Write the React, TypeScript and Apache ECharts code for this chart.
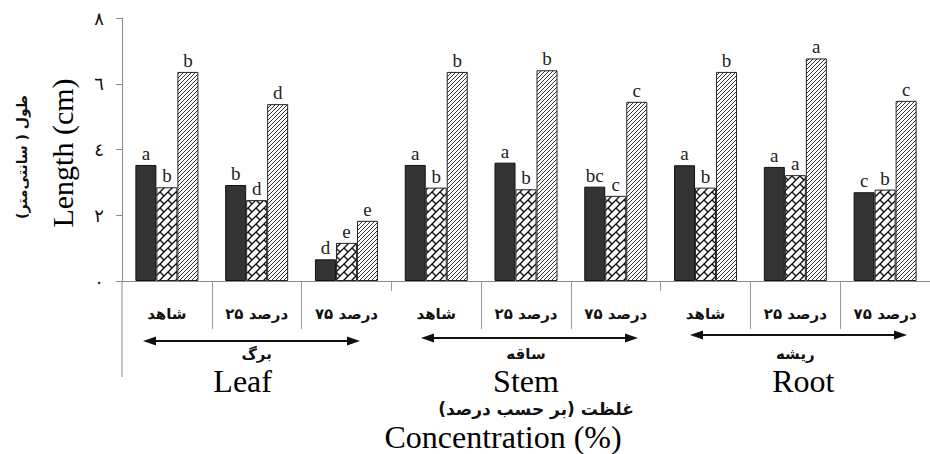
import React, { useEffect, useRef } from "react";
import * as echarts from "echarts";

// ---- data ----
const categories = ["شاهد", "۲۵ درصد", "۷۵ درصد", "شاهد", "۲۵ درصد", "۷۵ درصد", "شاهد", "۲۵ درصد", "۷۵ درصد"];
const groupsFa = ["برگ", "ساقه", "ریشه"];
const groupsEn = ["Leaf", "Stem", "Root"];
const yTickLabels: Record<number, string> = { 0: "٠", 2: "٢", 4: "٤", 6: "٦", 8: "٨" };

const seriesDark = [3.53, 2.92, 0.66, 3.53, 3.6, 2.87, 3.52, 3.47, 2.7];
const seriesCross = [2.85, 2.46, 1.16, 2.84, 2.79, 2.59, 2.84, 3.22, 2.78];
const seriesHatch = [6.36, 5.38, 1.83, 6.36, 6.41, 5.45, 6.36, 6.77, 5.48];

const lettersDark = ["a", "b", "d", "a", "a", "bc", "a", "a", "c"];
const lettersCross = ["b", "d", "e", "b", "b", "c", "b", "a", "b"];
const lettersHatch = ["b", "d", "e", "b", "b", "c", "b", "a", "c"];

const yTitleEn = "Length (cm)";
const yTitleFa = "طول ( سانتی‌متر)";
const xTitleEn = "Concentration (%)";
const xTitleFa = "غلظت (بر حسب درصد)";

function brickPattern() {
  const s = 16;
  const c = document.createElement("canvas");
  c.width = s;
  c.height = s;
  const g = c.getContext("2d")!;
  g.fillStyle = "#fff";
  g.fillRect(0, 0, s, s);
  g.strokeStyle = "#111";
  g.lineWidth = 1.4;
  g.beginPath();
  for (let k = -2; k <= 6; k++) {
    const sv = 8 * k;
    g.moveTo(sv + 4, -4);
    g.lineTo(-4, sv + 4);
  }
  for (let k = -2; k <= 5; k++) {
    const s0 = 8 * k;
    const off = ((k % 2) + 2) % 2 === 0 ? 0 : 8;
    for (let m = -3; m <= 3; m++) {
      const d = off + 16 * m;
      g.moveTo((s0 + d) / 2, (s0 - d) / 2);
      g.lineTo((s0 + 8 + d) / 2, (s0 + 8 - d) / 2);
    }
  }
  g.stroke();
  return { image: c.toDataURL(), repeat: "repeat", imageWidth: s, imageHeight: s };
}

function hatchPattern() {
  const s = 4;
  const c = document.createElement("canvas");
  c.width = s;
  c.height = s;
  const g = c.getContext("2d")!;
  g.fillStyle = "#fff";
  g.fillRect(0, 0, s, s);
  g.strokeStyle = "#333";
  g.lineWidth = 1;
  g.beginPath();
  g.moveTo(-1, s + 1);
  g.lineTo(s + 1, -1);
  g.moveTo(-1, 1);
  g.lineTo(1, -1);
  g.moveTo(s - 1, s + 1);
  g.lineTo(s + 1, s - 1);
  g.stroke();
  return { image: c.toDataURL(), repeat: "repeat", imageWidth: s, imageHeight: s };
}

function arrow(x1: number, x2: number, y: number) {
  const h = 13, w = 4.5;
  return [
    { type: "line", shape: { x1: x1 + 4, y1: y, x2: x2 - 4, y2: y }, style: { stroke: "#111", lineWidth: 2 } },
    { type: "polygon", shape: { points: [[x1, y], [x1 + h, y - w], [x1 + h, y + w]] }, style: { fill: "#111" } },
    { type: "polygon", shape: { points: [[x2, y], [x2 - h, y - w], [x2 - h, y + w]] }, style: { fill: "#111" } },
  ];
}

const serif = "'Liberation Serif', 'Times New Roman', serif";
const fa = "'DejaVu Sans', sans-serif";

export default function App() {
  const ref = useRef<HTMLDivElement>(null);
  useEffect(() => {
    document.body.style.margin = "0";
    const chart = echarts.init(ref.current!, null, { renderer: "svg" });
    const labelOf = (letters: string[]) => ({
      show: true,
      position: "top",
      distance: 2,
      fontFamily: serif,
      fontSize: 19,
      color: "#222",
      formatter: (p: any) => letters[p.dataIndex],
    });
    chart.setOption({
      animation: false,
      backgroundColor: "#fff",
      grid: { left: 122, right: -9, top: 18, bottom: 173 },
      xAxis: [
        {
          type: "category",
          data: categories,
          position: "bottom",
          axisLine: { show: true, lineStyle: { color: "#8a8a8a", width: 1 } },
          axisTick: { show: true, length: 48, interval: (i: number) => i % 3 !== 0, lineStyle: { color: "#999" } },
          axisLabel: { interval: 0, margin: 25, fontFamily: fa, fontWeight: "bold", fontSize: 15, color: "#111" },
        },
        {
          type: "category",
          data: groupsFa,
          position: "bottom",
          axisLine: { show: false },
          axisTick: { show: true, length: 10, interval: (i: number) => i !== 0, lineStyle: { color: "#999" } },
          axisLabel: {
            interval: 0,
            margin: 62,
            formatter: (v: string, i: number) => `{fa|${v}}\n{en${i}|${groupsEn[i]}}`,
            rich: {
              fa: { fontFamily: fa, fontWeight: "bold", fontSize: 15, color: "#111", lineHeight: 22 },
              en0: { fontFamily: serif, fontSize: 32, color: "#000", lineHeight: 32, padding: [0, 28, 0, 0] },
              en1: { fontFamily: serif, fontSize: 32, color: "#000", lineHeight: 32 },
              en2: { fontFamily: serif, fontSize: 32, color: "#000", lineHeight: 32, padding: [0, 0, 0, 16] },
            },
          },
        },
      ],
      yAxis: {
        type: "value",
        min: 0,
        max: 8,
        interval: 2,
        axisLine: { show: true, lineStyle: { color: "#8a8a8a" } },
        axisTick: { show: true, length: 6, lineStyle: { color: "#8a8a8a" } },
        splitLine: { show: false },
        axisLabel: {
          margin: 18,
          fontFamily: fa,
          fontSize: 18,
          color: "#111",
          formatter: (v: number) => yTickLabels[v] ?? String(v),
        },
      },
      series: [
        {
          type: "bar",
          name: "series1",
          data: seriesDark,
          barWidth: 21,
          barGap: "0%",
          itemStyle: { color: "#333", borderColor: "#111", borderWidth: 1 },
          label: labelOf(lettersDark),
        },
        {
          type: "bar",
          name: "series2",
          data: seriesCross,
          barWidth: 21,
          barGap: "0%",
          itemStyle: { color: brickPattern(), borderColor: "#222", borderWidth: 1 },
          label: labelOf(lettersCross),
        },
        {
          type: "bar",
          name: "series3",
          data: seriesHatch,
          barWidth: 21,
          barGap: "0%",
          itemStyle: { color: hatchPattern(), borderColor: "#222", borderWidth: 1 },
          label: labelOf(lettersHatch),
        },
      ],
      graphic: [
        { type: "line", shape: { x1: 122, y1: 281, x2: 122, y2: 377 }, style: { stroke: "#8a8a8a", lineWidth: 1 } },
        ...arrow(143, 360, 341),
        ...arrow(421, 638, 338),
        ...arrow(690, 907, 335),
        {
          type: "text",
          x: 62,
          y: 153,
          rotation: Math.PI / 2,
          style: { text: yTitleEn, fontFamily: serif, fontSize: 30, fill: "#000", align: "center", verticalAlign: "middle" },
        },
        {
          type: "text",
          x: 22,
          y: 157,
          rotation: Math.PI / 2,
          style: { text: yTitleFa, fontFamily: fa, fontWeight: "bold", fontSize: 14, fill: "#111", align: "center", verticalAlign: "middle" },
        },
        {
          type: "text",
          x: 536,
          y: 409,
          style: { text: xTitleFa, fontFamily: fa, fontWeight: "bold", fontSize: 17, fill: "#111", align: "center", verticalAlign: "middle" },
        },
        {
          type: "text",
          x: 503,
          y: 437,
          style: { text: xTitleEn, fontFamily: serif, fontSize: 32, fill: "#000", align: "center", verticalAlign: "middle" },
        },
      ],
    });
    return () => chart.dispose();
  }, []);
  return <div ref={ref} style={{ width: 930, height: 454 }} />;
}
